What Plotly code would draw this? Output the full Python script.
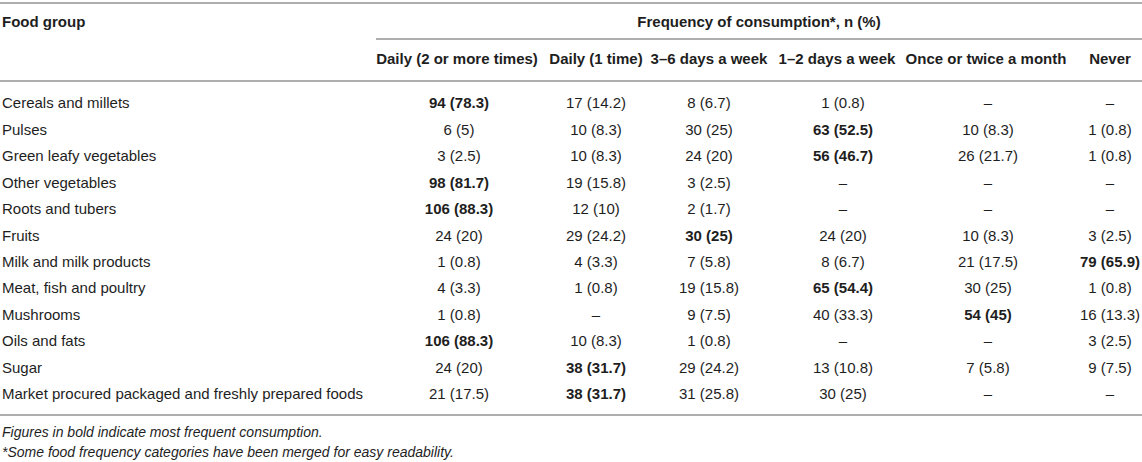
import plotly.graph_objects as go

# Food groups (rows) and frequency categories (columns)
food_groups = [
    "Cereals and millets", "Pulses", "Green leafy vegetables", "Other vegetables",
    "Roots and tubers", "Fruits", "Milk and milk products", "Meat, fish and poultry",
    "Mushrooms", "Oils and fats", "Sugar",
    "Market procured packaged and freshly prepared foods",
]
freq_labels = [
    "Daily (2 or more times)", "Daily (1 time)", "3–6 days a week",
    "1–2 days a week", "Once or twice a month", "Never",
]

# n and (%) per frequency column, None = "–"
daily2_n = [94, 6, 3, 98, 106, 24, 1, 4, 1, 106, 24, 21]
daily2_pct = [78.3, 5, 2.5, 81.7, 88.3, 20, 0.8, 3.3, 0.8, 88.3, 20, 17.5]
daily1_n = [17, 10, 10, 19, 12, 29, 4, 1, None, 10, 38, 38]
daily1_pct = [14.2, 8.3, 8.3, 15.8, 10, 24.2, 3.3, 0.8, None, 8.3, 31.7, 31.7]
week36_n = [8, 30, 24, 3, 2, 30, 7, 19, 9, 1, 29, 31]
week36_pct = [6.7, 25, 20, 2.5, 1.7, 25, 5.8, 15.8, 7.5, 0.8, 24.2, 25.8]
week12_n = [1, 63, 56, None, None, 24, 8, 65, 40, None, 13, 30]
week12_pct = [0.8, 52.5, 46.7, None, None, 20, 6.7, 54.4, 33.3, None, 10.8, 25]
month_n = [None, 10, 26, None, None, 10, 21, 30, 54, None, 7, None]
month_pct = [None, 8.3, 21.7, None, None, 8.3, 17.5, 25, 45, None, 5.8, None]
never_n = [None, 1, 1, None, None, 3, 79, 1, 16, 3, 9, None]
never_pct = [None, 0.8, 0.8, None, None, 2.5, 65.9, 0.8, 13.3, 2.5, 7.5, None]

footnotes = [
    "Figures in bold indicate most frequent consumption.",
    "*Some food frequency categories have been merged for easy readability.",
]

n_cols = [daily2_n, daily1_n, week36_n, week12_n, month_n, never_n]
pct_cols = [daily2_pct, daily1_pct, week36_pct, week12_pct, month_pct, never_pct]

# layout positions (pixel-like axis units)
W, H = 1142, 462
col_x = [459, 596, 709, 843, 988, 1110]
header_x = [457, 596, 709, 837, 986, 1110]
row_y = [104.5 + i * 26.45 for i in range(len(food_groups))]
LEFT = 2
FONT = "Arial, Liberation Sans, sans-serif"
TXT = "#1e1e1e"
LINE = "#aeaeae"

fig = go.Figure()


def text_trace(x, y, text, pos, size=15):
    return go.Scatter(
        x=x, y=y, text=text, mode="text", textposition=pos,
        textfont=dict(family=FONT, size=size, color=TXT),
        hoverinfo="skip", cliponaxis=False,
    )


# row labels
fig.add_trace(text_trace([LEFT] * len(food_groups), row_y, food_groups, "middle right"))

# data cells, bold where consumption is most frequent
for j in range(len(n_cols)):
    texts = []
    for i in range(len(food_groups)):
        n = n_cols[j][i]
        if n is None:
            texts.append("–")
            continue
        s = f"{n} ({pct_cols[j][i]:g})"
        row_max = max(c[i] for c in n_cols if c[i] is not None)
        texts.append(f"<b>{s}</b>" if n == row_max else s)
    fig.add_trace(text_trace([col_x[j]] * len(food_groups), row_y, texts, "middle center"))

# column headers
fig.add_trace(text_trace(header_x, [60.5] * len(freq_labels),
                         [f"<b>{t}</b>" for t in freq_labels], "middle center"))
fig.add_trace(text_trace([LEFT], [23.5], ["<b>Food group</b>"], "middle right"))
fig.add_trace(text_trace([759], [23.5], ["<b>Frequency of consumption*, n (%)</b>"], "middle center"))

# footnotes
fig.add_trace(text_trace([LEFT, LEFT], [433, 453], [f"<i>{t}</i>" for t in footnotes],
                         "middle right", size=14))

# horizontal rules
for x0, y0 in [(0, 3), (376, 39), (0, 81), (0, 415)]:
    fig.add_shape(type="line", x0=x0, x1=W, y0=y0, y1=y0,
                  line=dict(color=LINE, width=1.8))

fig.update_layout(
    width=W, height=H,
    margin=dict(l=0, r=0, t=0, b=0),
    paper_bgcolor="white", plot_bgcolor="white",
    showlegend=False,
    xaxis=dict(range=[0, W], visible=False, fixedrange=True),
    yaxis=dict(range=[H, 0], visible=False, fixedrange=True),
)

fig.write_html("out.html", config={"displayModeBar": False},
               post_script="document.body.style.margin='0px';")
